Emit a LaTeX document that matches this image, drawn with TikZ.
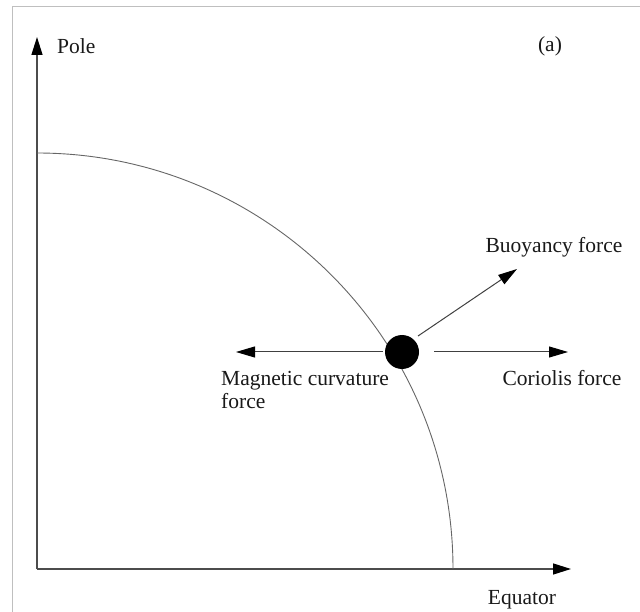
\documentclass[tikz,border=0pt]{standalone}
\usepackage{fontspec}
\setmainfont{Liberation Serif}
\usetikzlibrary{arrows.meta}
\begin{document}
\begin{tikzpicture}[x=1pt,y=-1pt,
  lbl/.style={font=\fontsize{21.5}{23}\selectfont, inner sep=0pt, text=black!90},
  axis/.style={draw=black!70, line width=1.4pt, -{Triangle[length=18pt,width=11pt,fill=black,color=black]}},
  force/.style={draw=black!75, line width=1pt, -{Triangle[length=19pt,width=11pt,fill=black,color=black]}}]
\useasboundingbox (0,0) rectangle (640,612);
\draw[black!25, line width=1pt] (12,612) -- (12,7) -- (640,7);
\coordinate (O) at (37,569);
\coordinate (ytip) at (37,37);
\coordinate (xtip) at (571,569);
\draw[axis] (O) -- (ytip);
\draw[axis] (O) -- (xtip);
\draw[black!60, line width=0.9pt] (37,153) arc[start angle=-90, end angle=0, radius=416];
\node[circle, fill=black, minimum size=34pt, inner sep=0pt] (p) at (402,352) {};
\coordinate (mtip) at (236,352);
\coordinate (ctip) at (568,352);
\coordinate (btip) at (517,269);
\draw[force] (p.west) ++(-2,0) coordinate (ms) (ms) -- (mtip);
\draw[force] (p.east) ++(15,0) coordinate (cs) (cs) -- (ctip);
\draw[force] (418,336) coordinate (bs) (bs) -- (btip);
\node[lbl, anchor=west] (pole) at (57,46) {Pole};
\node[lbl] (a) at (550,46) {(a)};
\node[lbl] (eq) at (522,600) {Equator};
\node[lbl] (buoy) at (554,247) {Buoyancy force};
\node[lbl] (cor) at (562,378) {Coriolis force};
\node[lbl, anchor=west, align=left] (mag) at (221,390) {Magnetic curvature\\force};
\end{tikzpicture}
\end{document}
